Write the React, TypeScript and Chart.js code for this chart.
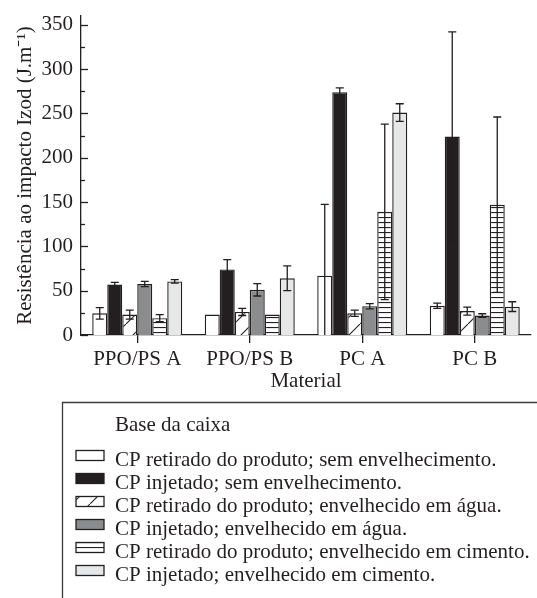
import React, { useEffect, useRef } from 'react';
import { Chart, registerables } from 'chart.js';

Chart.register(...registerables);

const FONT = "'Liberation Serif', 'Times New Roman', serif";
const INK = '#231f20';

const categories = ['PPO/PS A', 'PPO/PS B', 'PC A', 'PC B'];

const seriesLabels = [
  'CP retirado do produto; sem envelhecimento.',
  'CP injetado; sem envelhecimento.',
  'CP retirado do produto; envelhecido em água.',
  'CP injetado; envelhecido em água.',
  'CP retirado do produto; envelhecido em cimento.',
  'CP injetado; envelhecido em cimento.',
];

const retiradoSemEnv = [24.5, 23, 67, 33];
const retiradoSemEnvErr = [6.5, 0, 80.5, 3];
const injetadoSemEnv = [57, 74, 274, 224];
const injetadoSemEnvErr = [2.5, 11, 5, 118];
const retiradoAgua = [23, 26, 24.5, 27];
const retiradoAguaErr = [5, 4, 3.5, 4.5];
const injetadoAgua = [57.5, 51, 32.5, 22];
const injetadoAguaErr = [3, 7, 3, 2];
const retiradoCimento = [19, 23, 139, 147];
const retiradoCimentoErr = [4, 0, 99, 99];
const injetadoCimento = [60.5, 64, 251, 32];
const injetadoCimentoErr = [2, 14, 10, 5.5];

const yMin = 0;
const yMax = 360;
const yTickValues = [0, 25, 50, 75, 100, 125, 150, 175, 200, 225, 250, 275, 300, 325, 350];
const yLabelStep = 50;

const legendTitle = 'Base da caixa';
const xTitle = 'Material';
const yTitle = 'Resistência ao impacto Izod (J.m⁻¹)';

function makeDiagPattern(): CanvasPattern | string {
  const c = document.createElement('canvas');
  c.width = 18;
  c.height = 18;
  const g = c.getContext('2d');
  if (!g) return '#ffffff';
  g.fillStyle = '#ffffff';
  g.fillRect(0, 0, 18, 18);
  g.strokeStyle = INK;
  g.lineWidth = 1.1;
  g.beginPath();
  g.moveTo(-2, 20);
  g.lineTo(20, -2);
  g.stroke();
  return g.createPattern(c, 'repeat') || '#ffffff';
}

function makeHLinePattern(): CanvasPattern | string {
  const c = document.createElement('canvas');
  c.width = 8;
  c.height = 5;
  const g = c.getContext('2d');
  if (!g) return '#ffffff';
  g.fillStyle = '#ffffff';
  g.fillRect(0, 0, 8, 5);
  g.fillStyle = INK;
  g.fillRect(0, 2, 8, 1.1);
  return g.createPattern(c, 'repeat') || '#ffffff';
}

const customPlugin = {
  id: 'customDecor',
  afterDatasetsDraw(chart: any) {
    const { ctx, chartArea } = chart;
    const y = chart.scales.y;
    ctx.save();
    ctx.beginPath();
    ctx.rect(chartArea.left, chartArea.top, chartArea.right - chartArea.left, chartArea.bottom - chartArea.top);
    ctx.clip();
    ctx.strokeStyle = INK;
    ctx.lineWidth = 1.3;
    chart.data.datasets.forEach((ds: any, di: number) => {
      const meta = chart.getDatasetMeta(di);
      const errs: number[] = ds.errors || [];
      meta.data.forEach((bar: any, i: number) => {
        const e = errs[i];
        if (!e) return;
        const v = ds.data[i];
        const x = bar.x;
        const yTop = y.getPixelForValue(v + e);
        const yBot = y.getPixelForValue(v - e);
        ctx.beginPath();
        ctx.moveTo(x, yTop);
        ctx.lineTo(x, yBot);
        ctx.moveTo(x - 4, yTop);
        ctx.lineTo(x + 4, yTop);
        ctx.moveTo(x - 4, yBot);
        ctx.lineTo(x + 4, yBot);
        ctx.stroke();
      });
    });
    ctx.restore();

    // inward y ticks
    ctx.save();
    ctx.strokeStyle = INK;
    ctx.lineWidth = 1.3;
    y.ticks.forEach((t: any) => {
      const py = Math.round(y.getPixelForValue(t.value)) + 0.5;
      const len = t.value % yLabelStep === 0 ? 7 : 4;
      ctx.beginPath();
      ctx.moveTo(chartArea.left, py);
      ctx.lineTo(chartArea.left + len, py);
      ctx.stroke();
    });
    ctx.restore();
  },
  afterDraw(chart: any) {
    const { ctx } = chart;
    ctx.save();
    ctx.strokeStyle = '#3a3a3a';
    ctx.lineWidth = 1.3;
    ctx.beginPath();
    ctx.moveTo(62.5, 600);
    ctx.lineTo(62.5, 402.5);
    ctx.lineTo(540, 402.5);
    ctx.stroke();
    ctx.font = `21px ${FONT}`;
    ctx.textBaseline = 'alphabetic';
    ctx.textAlign = 'left';
    ctx.fillStyle = INK;
    ctx.fillText(legendTitle, 115, 430.5);
    chart.data.datasets.forEach((ds: any, i: number) => {
      const base = 466 + 23 * i;
      const cy = base - 10.5;
      ctx.fillStyle = ds.backgroundColor;
      ctx.fillRect(76, cy - 5, 28, 10);
      ctx.strokeStyle = INK;
      ctx.lineWidth = 1.3;
      ctx.strokeRect(76, cy - 5, 28, 10);
      ctx.fillStyle = INK;
      ctx.fillText(ds.label, 115, base);
    });
    ctx.restore();
  },
};

export default function App() {
  const ref = useRef<HTMLCanvasElement | null>(null);

  useEffect(() => {
    if (!ref.current) return;
    const diag = makeDiagPattern();
    const hlines = makeHLinePattern();
    const fills: any[] = ['#ffffff', INK, diag, '#8b8c8e', hlines, '#e6e7e8'];
    const values = [retiradoSemEnv, injetadoSemEnv, retiradoAgua, injetadoAgua, retiradoCimento, injetadoCimento];
    const errors = [retiradoSemEnvErr, injetadoSemEnvErr, retiradoAguaErr, injetadoAguaErr, retiradoCimentoErr, injetadoCimentoErr];

    const chart = new Chart(ref.current, {
      type: 'bar',
      data: {
        labels: categories,
        datasets: values.map((v, i) => ({
          label: seriesLabels[i],
          data: v,
          errors: errors[i],
          backgroundColor: fills[i],
          borderColor: INK,
          borderWidth: 1.4,
          categoryPercentage: 0.8,
          barPercentage: 1.0,
        })) as any,
      },
      options: {
        animation: false,
        responsive: false,
        devicePixelRatio: 1,
        layout: { padding: { top: 16, right: 6, bottom: 203.5, left: 0 } },
        plugins: {
          legend: { display: false },
          tooltip: { enabled: false },
        },
        scales: {
          x: {
            grid: {
              display: true,
              drawOnChartArea: false,
              drawTicks: true,
              tickLength: 8,
              offset: false,
              color: INK,
              lineWidth: 1.3,
            },
            border: { display: true, color: INK, width: 1.3 },
            ticks: {
              color: INK,
              font: { family: FONT, size: 21 },
              padding: 4,
              maxRotation: 0,
              autoSkip: false,
            },
            title: {
              display: true,
              text: xTitle,
              color: INK,
              font: { family: FONT, size: 21 },
              padding: { top: 0, bottom: 0 },
            },
            afterFit(scale: any) {
              scale.height = 59.5;
              scale.paddingLeft = 0;
              scale.paddingRight = 0;
            },
          } as any,
          y: {
            min: yMin,
            max: yMax,
            grid: { display: false, drawTicks: false },
            border: { display: true, color: INK, width: 1.3 },
            ticks: {
              autoSkip: false,
              color: INK,
              font: { family: FONT, size: 21 },
              padding: 8,
              callback: (v: any) => (Number(v) % yLabelStep === 0 ? String(v) : ''),
            },
            afterBuildTicks(scale: any) {
              scale.ticks = yTickValues.map((value) => ({ value }));
            },
            title: {
              display: true,
              text: yTitle,
              color: INK,
              font: { family: FONT, size: 21 },
              padding: { top: 13, bottom: 0 },
            },
            afterFit(scale: any) {
              scale.width = 81;
              scale.paddingTop = 0;
              scale.paddingBottom = 0;
            },
          } as any,
        },
      },
      plugins: [customPlugin],
    });

    return () => chart.destroy();
  }, []);

  return (
    <div style={{ position: 'absolute', left: 0, top: 0, width: 537, height: 598, background: '#ffffff' }}>
      <canvas ref={ref} width={537} height={598} style={{ width: 537, height: 598, display: 'block' }} />
    </div>
  );
}
